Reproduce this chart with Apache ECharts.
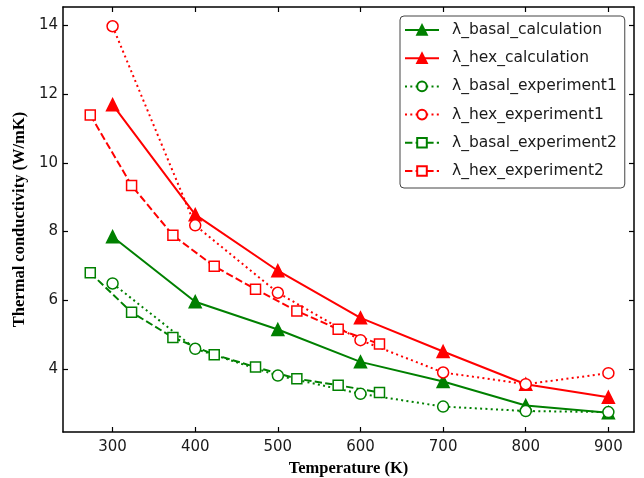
<!DOCTYPE html>
<html>
<head>
<meta charset="utf-8">
<script src="https://cdn.jsdelivr.net/npm/echarts@6/dist/echarts.min.js"></script>
<style>
html,body{margin:0;padding:0;background:#fff;}
#chart{width:644px;height:478px;}
</style>
</head>
<body>
<div id="chart"></div>
<script>
// ---- data ----
const tempsMain = [300, 400, 500, 600, 700, 800, 900];
const tempsExp2 = [273, 323, 373, 423, 473, 523, 573, 623];
const basalCalc = [7.85, 5.96, 5.15, 4.21, 3.64, 2.94, 2.73];
const hexCalc = [11.69, 8.49, 6.86, 5.49, 4.51, 3.56, 3.18];
const basalExp1 = [6.49, 4.59, 3.81, 3.28, 2.91, 2.78, 2.75];
const hexExp1 = [13.97, 8.18, 6.22, 4.84, 3.90, 3.56, 3.88];
const basalExp2 = [6.80, 5.65, 4.92, 4.42, 4.06, 3.72, 3.53, 3.32];
const hexExp2 = [11.39, 9.34, 7.89, 6.99, 6.32, 5.69, 5.16, 4.73];
const xTicks = [300, 400, 500, 600, 700, 800, 900];
const yTicks = [4, 6, 8, 10, 12, 14];
const seriesNames = ['λ_basal_calculation', 'λ_hex_calculation', 'λ_basal_experiment1',
                     'λ_hex_experiment1', 'λ_basal_experiment2', 'λ_hex_experiment2'];

const GREEN = '#008000', RED = '#ff0000';
const pairs = (xs, ys) => xs.map((x, i) => [x, ys[i]]);

function mk(name, xs, ys, color, symbol, size, dash) {
  return {
    name: name, type: 'line', data: pairs(xs, ys),
    symbol: symbol, symbolSize: size,
    showAllSymbol: true,
    lineStyle: { color: color, width: 2, type: dash },
    itemStyle: { color: symbol === 'triangle' ? color : '#fff', borderColor: color, borderWidth: 1.5 },
    emphasis: { disabled: true },
    animation: false
  };
}

const dotted = [2, 3.3];
const dashed = [7.4, 3.2];

const series = [
  mk(seriesNames[0], tempsMain, basalCalc, GREEN, 'triangle', 12, 'solid'),
  mk(seriesNames[1], tempsMain, hexCalc, RED, 'triangle', 12, 'solid'),
  mk(seriesNames[2], tempsMain, basalExp1, GREEN, 'circle', 11, dotted),
  mk(seriesNames[3], tempsMain, hexExp1, RED, 'circle', 11, dotted),
  mk(seriesNames[4], tempsExp2, basalExp2, GREEN, 'rect', 10, dashed),
  mk(seriesNames[5], tempsExp2, hexExp2, RED, 'rect', 10, dashed)
];

const axisLine = { show: true, onZero: false, lineStyle: { color: '#000', width: 1.5 } };
const tickStyle = { lineStyle: { color: '#000', width: 1.2 } };
const labelFont = { fontFamily: 'DejaVu Sans', fontSize: 15, color: '#1a1a1a' };
const xMin = 240, xMax = 931, yMin = 2.17, yMax = 14.53;

const chart = echarts.init(document.getElementById('chart'), null, { renderer: 'canvas' });
chart.setOption({
  animation: false,
  backgroundColor: '#fff',
  grid: { left: 63, right: 10, top: 7, bottom: 46, containLabel: false, outerBoundsMode: 'none' },
  legend: {
    data: seriesNames,
    orient: 'vertical',
    left: 400, top: 16,
    itemWidth: 34, itemHeight: 12, itemGap: 12.2,
    padding: [6, 8, 9, 4],
    backgroundColor: '#fff',
    borderColor: '#444', borderWidth: 1, borderRadius: 4,
    textStyle: { fontFamily: 'DejaVu Sans', fontSize: 15.5, color: '#1a1a1a', lineHeight: 16, padding: [0, 0, 0, 8] },
    selectedMode: false
  },
  xAxis: [{
    type: 'value', min: xMin, max: xMax, position: 'bottom',
    name: 'Temperature (K)', nameLocation: 'middle', nameGap: 28.5,
    nameTextStyle: { fontFamily: 'Liberation Serif', fontWeight: 'bold', fontSize: 16.5, color: '#000' },
    axisLine: axisLine,
    axisTick: Object.assign({ show: true, inside: true, length: 5, customValues: xTicks }, tickStyle),
    axisLabel: Object.assign({ show: true, margin: 8, customValues: xTicks }, labelFont),
    splitLine: { show: false }
  }, {
    type: 'value', min: xMin, max: xMax, position: 'top',
    axisLine: axisLine,
    axisTick: Object.assign({ show: true, inside: true, length: 5, customValues: xTicks }, tickStyle),
    axisLabel: { show: false },
    splitLine: { show: false }
  }],
  yAxis: [{
    type: 'value', min: yMin, max: yMax, position: 'left',
    name: 'Thermal conductivity (W/mK)', nameLocation: 'middle', nameGap: 34.5,
    nameTextStyle: { fontFamily: 'Liberation Serif', fontWeight: 'bold', fontSize: 16.5, color: '#000' },
    axisLine: axisLine,
    axisTick: Object.assign({ show: true, inside: true, length: 5, customValues: yTicks }, tickStyle),
    axisLabel: Object.assign({ show: true, margin: 5, customValues: yTicks }, labelFont),
    splitLine: { show: false }
  }, {
    type: 'value', min: yMin, max: yMax, position: 'right',
    axisLine: axisLine,
    axisTick: Object.assign({ show: true, inside: true, length: 5, customValues: yTicks }, tickStyle),
    axisLabel: { show: false },
    splitLine: { show: false }
  }],
  series: series
});
</script>
</body>
</html>
